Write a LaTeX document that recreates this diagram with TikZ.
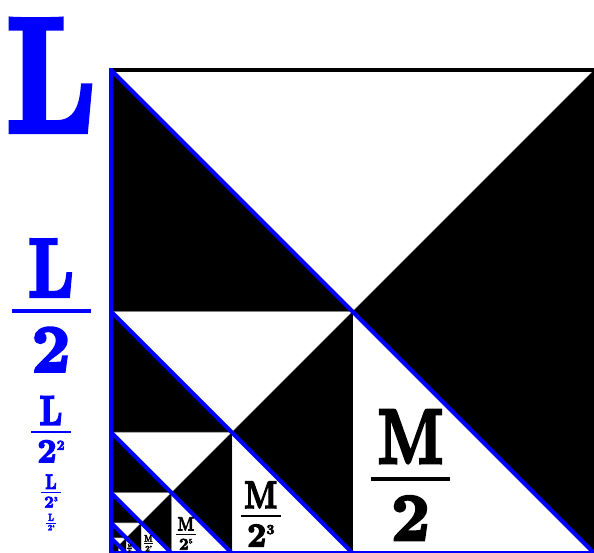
\documentclass[tikz,border=0pt]{standalone}
\usepackage{fontspec}
\newfontfamily\heavy{lmroman10-bold.otf}[FakeBold=4]
\newcommand\twopow[2]{2\ifnum#1>1\raisebox{.37em}{\fontsize{#2}{#2}\selectfont#1}\fi}
\begin{document}
\begin{tikzpicture}[x=1pt,y=1pt,
		blueline/.style={blue,line width=4pt},
		whitetri/.style={fill=white,draw=gray,line width=0.6pt},
		lbl/.style={inner sep=0pt,anchor=base}]
	\useasboundingbox (0,0) rectangle (594,553);
	% squares, big to small
	\foreach \k in {0,...,5}{
		\pgfmathsetmacro\s{483/2^\k}
		\pgfmathsetmacro\h{\s/2}
		\fill [black] (111,0) rectangle ++(\s,\s);
		\filldraw [whitetri] (111,\s) -- ++(\s,0) -- (111+\h,\h) -- cycle;
		\filldraw [whitetri] (111+\h,\h) -- (111+\h,0) -- (111+\s,0) -- cycle;
	}
	\draw [line width=4pt] (111,483) -- (594,483);
	\draw [blueline] (111,0) -- (111,485);
	\draw [blueline] (111,0) -- (594,0);
	\foreach \k in {0,...,5}{
		\pgfmathsetmacro\s{483/2^\k}
		\draw [blueline] (111,\s) -- (111+\s,0);
	}
	% M labels
	\foreach \k in {0,...,4}{
		\pgfmathsetmacro\f{1/2^\k}
		\pgfmathsetmacro\x{111+299.5*\f}
		\pgfmathsetmacro\y{74*\f}
		\pgfmathsetmacro\w{4*\f}
		\pgfmathsetmacro\fa{77*\f}
		\pgfmathsetmacro\fb{67*\f}
		\pgfmathsetmacro\fc{28*\f}
		\pgfmathtruncatemacro\e{2*\k+1}
		\draw [line width=\w pt] (\x-39.5*\f,\y) -- (\x+39.5*\f,\y);
		\node [lbl,font=\heavy\fontsize{\fa}{\fa}\selectfont] (mnum\k) at (\x,\y+16*\f) {\scalebox{.78}[1]{M}};
		\node [lbl,font=\heavy\fontsize{\fb}{\fb}\selectfont] (mden\k) at (\x,\y-61*\f) {\twopow{\e}{\fc}};
	}
	% L labels
	\node [lbl,blue,font=\heavy\fontsize{162}{162}\selectfont] (bigL) at (51,422) {\scalebox{.8}[1]{L}};
	\foreach \k in {1,...,4}{
		\pgfmathsetmacro\f{2/2^\k}
		\pgfmathsetmacro\y{483/2^\k}
		\pgfmathsetmacro\w{4*\f}
		\pgfmathsetmacro\fa{83*\f}
		\pgfmathsetmacro\fb{67*\f}
		\pgfmathsetmacro\fc{28*\f}
		\draw [blue,line width=\w pt] (51-39.5*\f,\y) -- (51+39.5*\f,\y);
		\node [lbl,blue,font=\heavy\fontsize{\fa}{\fa}\selectfont] (lnum\k) at (51,\y+15*\f) {\scalebox{.8}[1]{L}};
		\node [lbl,blue,font=\heavy\fontsize{\fb}{\fb}\selectfont] (lden\k) at (51,\y-60*\f) {\twopow{\k}{\fc}};
	}
\end{tikzpicture}
\end{document}
